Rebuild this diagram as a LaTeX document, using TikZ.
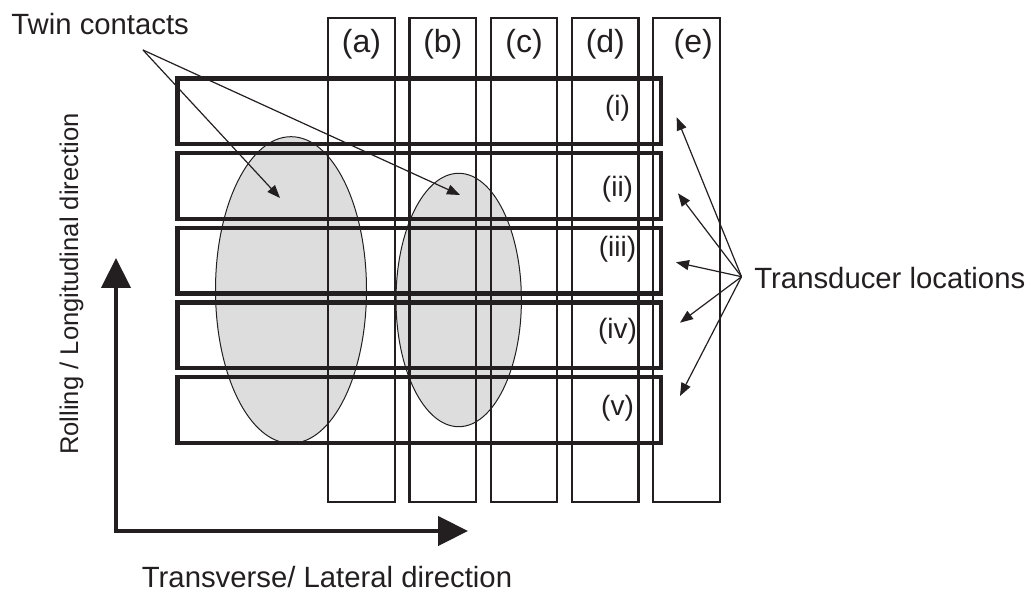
\documentclass[tikz,border=0pt]{standalone}
\usepackage{fontspec}
\setmainfont{Liberation Sans}
\usetikzlibrary{arrows.meta,positioning,shapes.geometric}
\definecolor{ink}{RGB}{35,31,32}
\definecolor{patch}{RGB}{221,221,221}

\begin{document}
\begin{tikzpicture}[
  x=0.5pt,y=-0.5pt,
  >={Triangle[length=6.5pt,width=5pt]},
  strip/.style={draw=ink,line width=1.1pt,minimum width=33.25pt,
                minimum height=241.7pt,inner sep=0pt,outer sep=0pt},
  lane/.style={draw=ink,line width=2.2pt,minimum width=241.75pt,
               minimum height=32.8pt,inner sep=0pt,outer sep=0pt},
  contact/.style={ellipse,draw=ink,line width=0.5pt,fill=patch,inner sep=0pt},
  pointer/.style={->,draw=ink,line width=0.6pt},
  axis/.style={{Triangle[length=15pt,width=14.5pt]}-{Triangle[length=15pt,width=14.5pt]},
               draw=ink,line width=2.25pt},
  tag/.style={inner sep=0pt,text=ink,font=\fontsize{16pt}{18pt}\selectfont},
  rowtag/.style={inner sep=0pt,text=ink,font=\fontsize{14pt}{16pt}\selectfont},
  caption/.style={inner sep=0pt,text=ink,font=\fontsize{14.65pt}{17pt}\selectfont}
]
\useasboundingbox (0,0) rectangle (1034,593);

% contact patches
\node[contact,minimum width=75.5pt,minimum height=153.3pt] (bigpatch) at (291,290) {};
\node[contact,minimum width=62.7pt,minimum height=126.7pt] (smallpatch) at (458.7,300) {};

% lateral strips
\node[strip] (a) at (361.55,260) {};
\node[strip,right=7.375pt of a] (b) {};
\node[strip,right=7.375pt of b] (c) {};
\node[strip,right=7.375pt of c] (d) {};
\node[strip,right=7.375pt of d] (e) {};

% longitudinal lanes
\node[lane] (ri) at (419.25,111.5) {};
\node[lane,below=4.5pt of ri] (rii) {};
\node[lane,below=4.5pt of rii] (riii) {};
\node[lane,below=4.5pt of riii] (riv) {};
\node[lane,below=4.5pt of riv] (rv) {};

\node[tag] (ta) at ([yshift=-12.85pt]a.north) {(a)};
\node[tag] (tb) at ([yshift=-12.85pt]b.north) {(b)};
\node[tag] (tc) at ([yshift=-12.85pt]c.north) {(c)};
\node[tag] (td) at ([yshift=-12.85pt]d.north) {(d)};
\node[tag] (te) at ([xshift=3.3pt,yshift=-12.85pt]e.north) {(e)};

\node[rowtag] (ti) at ([xshift=-21.75pt,yshift=1.75pt]ri.east) {(i)};
\node[rowtag] (tii) at ([xshift=-21.75pt,yshift=-1.5pt]rii.east) {(ii)};
\node[rowtag] (tiii) at ([xshift=-21.75pt,yshift=5.85pt]riii.east) {(iii)};
\node[rowtag] (tiv) at ([xshift=-21.75pt,yshift=1.8pt]riv.east) {(iv)};
\node[rowtag] (tv) at ([xshift=-21.75pt,yshift=0.8pt]rv.east) {(v)};

% twin contacts callout
\node[caption,anchor=base west] (twin) at (11,35) {Twin contacts};
\coordinate (twinfoot) at (143,50);
\coordinate (spotA) at (280,198);
\coordinate (spotB) at (460,195);
\draw[pointer] (twinfoot) -- (spotA);
\draw[pointer] (twinfoot) -- (spotB);

% transducer callout
\node[caption,anchor=base west] (sensors) at (754,288.3) {Transducer locations};
\coordinate (sensorfoot) at (741.5,276.7);
\coordinate (si) at (676.7,117.3);
\coordinate (sii) at (678,193.3);
\coordinate (siii) at (676,262.3);
\coordinate (siv) at (680,322.7);
\coordinate (sv) at (680,396);
\draw[pointer] (sensorfoot) -- (si);
\draw[pointer] (sensorfoot) -- (sii);
\draw[pointer] (sensorfoot) -- (siii);
\draw[pointer] (sensorfoot) -- (siv);
\draw[pointer] (sensorfoot) -- (sv);

% direction axes
\coordinate (rollend) at (116,258);
\coordinate (lateralend) at (468,531);
\draw[axis] (rollend) |- (lateralend);
\node[caption,rotate=90,anchor=base,font=\fontsize{12.8pt}{15pt}\selectfont]
  (rolling) at (78,284) {Rolling / Longitudinal direction};
\node[caption,anchor=base] (lateral) at (327,587) {Transverse/ Lateral direction};
\end{tikzpicture}
\end{document}
